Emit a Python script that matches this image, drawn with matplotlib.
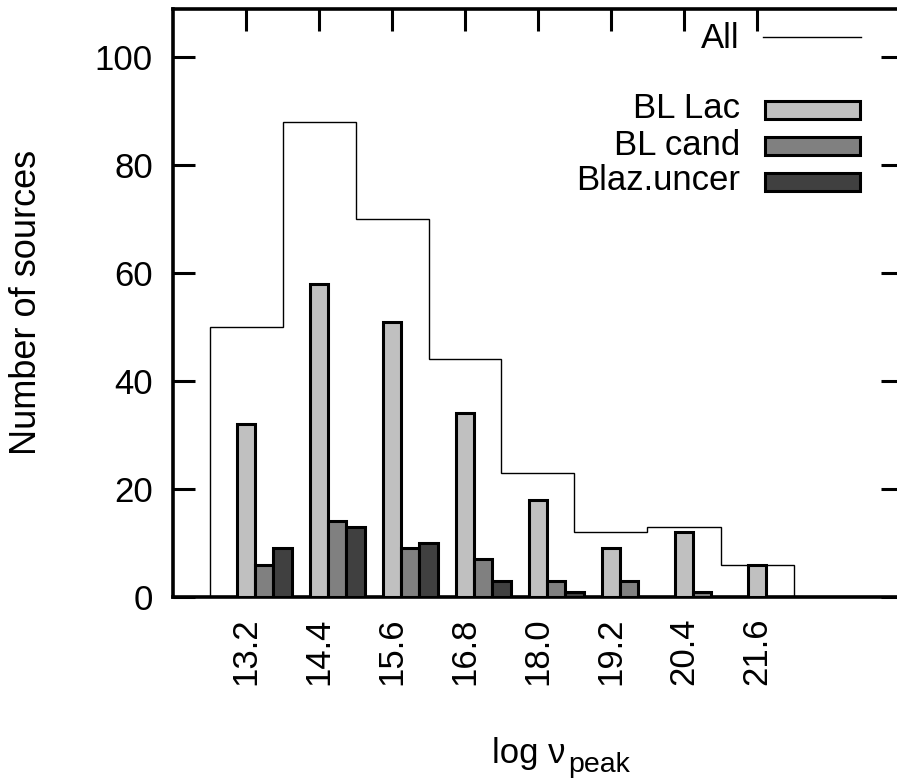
import matplotlib
matplotlib.use("Agg")
import matplotlib.pyplot as plt
from matplotlib.patches import Rectangle
from matplotlib.lines import Line2D
import numpy as np

plt.rcParams['font.family'] = ['Liberation Sans', 'DejaVu Sans']

# ---- data ----
bin_centers = [13.2, 14.4, 15.6, 16.8, 18.0, 19.2, 20.4, 21.6]
tick_labels = ["13.2", "14.4", "15.6", "16.8", "18.0", "19.2", "20.4", "21.6"]
bin_width = 1.2
all_counts = [50, 88, 70, 44, 23, 12, 13, 6]
bl_lac = [32, 58, 51, 34, 18, 9, 12, 6]
bl_cand = [6, 14, 9, 7, 3, 3, 1, 0]
blaz_uncer = [9, 13, 10, 3, 1, 0, 0, 0]
series_names = ["BL Lac", "BL cand", "Blaz.uncer"]
series_colors = ["#c0c0c0", "#808080", "#404040"]

FS = 25

W, H = 897, 778
fig = plt.figure(figsize=(W / 100, H / 100), dpi=100)
L, R, T, B = 173, 903, 8.5, 597
ax = fig.add_axes([L / W, (H - B) / H, (R - L) / W, (B - T) / H])

centers = np.array(bin_centers)
edges = np.concatenate([centers - bin_width / 2, [centers[-1] + bin_width / 2]])
ax.stairs(all_counts, edges, baseline=0, fill=False, color='black', lw=1.0, zorder=2)

bw = 0.3
for i, (vals, col) in enumerate(zip([bl_lac, bl_cand, blaz_uncer], series_colors)):
    ax.bar(centers + i * bw, vals, width=bw, color=col, edgecolor='black',
           linewidth=2.2, zorder=3)

ax.set_xlim(12, 24)
ax.set_ylim(0, 109)
ax.set_xticks(bin_centers)
ax.set_xticklabels(tick_labels, rotation=90)
ax.set_yticks([0, 20, 40, 60, 80, 100])
ax.set_axisbelow(True)
ax.tick_params(direction='in', length=15.8, width=2.2, top=True, right=True,
               labelsize=FS, color='black')
ax.tick_params(axis='x', pad=15.0)
ax.tick_params(axis='y', pad=14.5)
for s in ax.spines.values():
    s.set_linewidth(2.6)

# axis labels
fig.text(27 / W, 1 - 302 / H, "Number of sources", rotation=90, ha='center',
         va='center', fontsize=26)
fig.text(491.5 / W, 1 - 763 / H, "log ν", ha='left', va='baseline', fontsize=FS)
fig.text(568 / W, 1 - 772 / H, "peak", ha='left', va='baseline', fontsize=20.5)

# legend (manual, gnuplot style)
def fx(px):
    return px / W

def fy(py):
    return 1 - py / H

leg_x0, leg_x1, txt_x = 763, 861, 740
fig.add_artist(Line2D([fx(leg_x0), fx(leg_x1)], [fy(37), fy(37)], color='black', lw=1.0))
fig.text(fx(txt_x), fy(38), "All", ha='right', va='center', fontsize=FS)
rows_y = [109.7, 146.3, 181.7]
for name, col, yc in zip(series_names, series_colors, rows_y):
    h = 18
    fig.add_artist(Rectangle((fx(leg_x0 + 1.5), fy(yc + h / 2)),
                             (leg_x1 - leg_x0 - 3) / W, h / H,
                             transform=fig.transFigure, facecolor=col,
                             edgecolor='black', linewidth=2.2))
    fig.text(fx(txt_x), fy(yc - 1), name, ha='right', va='center', fontsize=FS)

fig.savefig("out.png", dpi=100)
